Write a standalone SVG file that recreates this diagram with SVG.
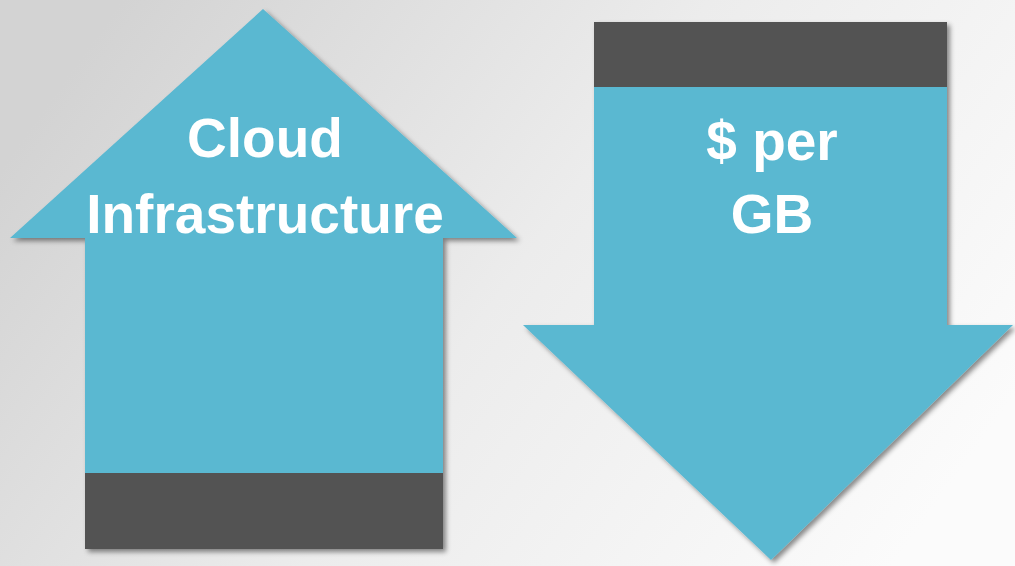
<svg xmlns="http://www.w3.org/2000/svg" width="1015" height="566" viewBox="0 0 1015 566">
  <defs>
    <linearGradient id="bg" x1="0" y1="0.3" x2="1" y2="0.7">
      <stop offset="0" stop-color="#d3d3d3"/>
      <stop offset="0.5" stop-color="#ececec"/>
      <stop offset="1" stop-color="#fbfbfb"/>
    </linearGradient>
    <filter id="shadow" x="-10%" y="-10%" width="120%" height="120%">
      <feDropShadow dx="3" dy="3" stdDeviation="2.5" flood-color="#000" flood-opacity="0.45"/>
    </filter>
  </defs>
  <style>
    .blue { fill: #5ab8d1; }
    .dark { fill: #525252; }
    .lbl { font-family: "Liberation Sans", Arial, sans-serif; font-weight: bold; font-size: 55px; fill: #ffffff; text-anchor: middle; }
  </style>
  <rect x="0" y="0" width="1015" height="566" fill="url(#bg)"/>

  <g id="up-arrow" filter="url(#shadow)">
    <polygon class="blue" points="263,9 517,238 443,238 443,474 85,474 85,238 10,238"/>
    <rect class="dark" x="85" y="473" width="358" height="76"/>
    <text class="lbl" x="265" y="157">Cloud</text>
    <text class="lbl" x="265" y="233">Infrastructure</text>
  </g>

  <g id="down-arrow" filter="url(#shadow)">
    <polygon class="blue" points="594,86 947,86 947,325 1013,325 771,560 523,325 594,325"/>
    <rect class="dark" x="594" y="22" width="353" height="65"/>
    <text class="lbl" x="772" y="160">$ per</text>
    <text class="lbl" x="772" y="233">GB</text>
  </g>
</svg>
